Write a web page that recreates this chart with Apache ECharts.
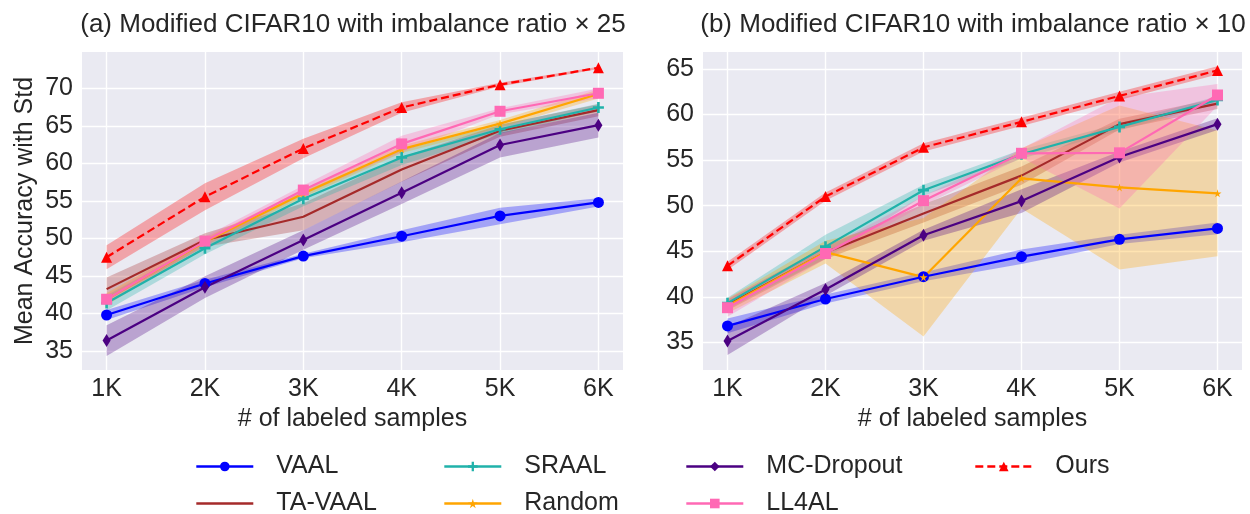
<!DOCTYPE html>
<html>
<head>
<meta charset="utf-8">
<title>Modified CIFAR10 imbalance</title>
<script src="https://cdn.jsdelivr.net/npm/echarts@6/dist/echarts.min.js"></script>
<style>
  html, body { margin: 0; padding: 0; background: #fff; }
  #main { width: 1250px; height: 514px; }
</style>
</head>
<body>
<div id="main"></div>
<script>
// x positions (thousands of labeled samples) and tick labels
var xK = [1, 2, 3, 4, 5, 6];
var yTicksA = [35, 40, 45, 50, 55, 60, 65, 70];
var yTicksB = [35, 40, 45, 50, 55, 60, 65];

// (a) imbalance ratio x25 : mean and std
var vaalA = [39.8, 44.0, 47.65, 50.3, 53.0, 54.8];
var vaalStdA = [0.65, 0.5, 0.3, 0.8, 1.1, 0.55];
var tavaalA = [43.25, 49.8, 52.9, 59.2, 64.35, 67.1];
var tavaalStdA = [1.55, 0.9, 1.8, 1.65, 0.8, 0.8];
var sraalA = [41.4, 48.7, 55.3, 60.8, 64.55, 67.45];
var sraalStdA = [1.0, 0.8, 1.0, 1.0, 0.6, 0.5];
var randomA = [41.9, 49.55, 56.0, 61.9, 65.3, 69.25];
var randomStdA = [0.8, 0.5, 0.5, 0.5, 0.5, 0.6];
var mcA = [36.4, 43.5, 49.8, 56.1, 62.45, 65.1];
var mcStdA = [2.05, 1.45, 1.3, 1.5, 1.65, 1.65];
var ll4alA = [41.9, 49.65, 56.45, 62.6, 66.95, 69.35];
var ll4alStdA = [0.5, 0.6, 0.6, 1.1, 0.4, 0.65];
var oursA = [47.5, 55.55, 62.0, 67.45, 70.5, 72.75];
var oursStdA = [1.6, 1.8, 1.3, 0.7, 0.25, 0.15];

// (b) imbalance ratio x10 : mean and std
var vaalB = [36.8, 39.75, 42.2, 44.4, 46.3, 47.5];
var vaalStdB = [0.8, 0.5, 0.5, 0.8, 0.5, 0.65];
var tavaalB = [39.1, 44.85, 49.15, 53.3, 58.95, 61.2];
var tavaalStdB = [0.6, 0.7, 1.0, 1.0, 0.6, 0.6];
var sraalB = [39.3, 45.5, 51.7, 55.65, 58.65, 61.6];
var sraalStdB = [0.6, 1.3, 0.6, 0.5, 0.4, 0.4];
var randomB = [39.0, 44.9, 42.15, 53.0, 52.0, 51.35];
var randomStdB = [0.8, 1.25, 6.5, 3.3, 9.0, 6.9];
var mcB = [35.15, 40.8, 46.75, 50.5, 55.35, 58.95];
var mcStdB = [1.55, 0.7, 0.6, 1.3, 0.6, 0.65];
var ll4alB = [38.8, 44.75, 50.55, 55.75, 55.8, 62.15];
var ll4alStdB = [1.0, 0.6, 0.5, 0.5, 6.1, 1.2];
var oursB = [43.4, 51.0, 56.4, 59.2, 62.05, 64.85];
var oursStdB = [0.45, 0.45, 0.45, 0.45, 0.45, 0.45];

var FONT = 'Liberation Sans, Arial, sans-serif';
var TXT = '#262626';

var starPath = 'path://M50,0L61,35L98,35L68,57L79,91L50,70L21,91L32,57L2,35L39,35Z';
var plusPath = 'path://M38,0H62V38H100V62H62V100H38V62H0V38H38Z';

var styles = [
  { name: 'VAAL', color: '#0000ff', symbol: 'circle', size: 11 },
  { name: 'TA-VAAL', color: '#a52a2a', symbol: 'none', size: 0 },
  { name: 'SRAAL', color: '#20b2aa', symbol: plusPath, size: 11 },
  { name: 'Random', color: '#ffa500', symbol: starPath, size: 8 },
  { name: 'MC-Dropout', color: '#4b0082', symbol: 'diamond', size: [8, 13] },
  { name: 'LL4AL', color: '#ff69b4', symbol: 'rect', size: 11 },
  { name: 'Ours', color: '#ff0000', symbol: 'triangle', size: 11, dashed: true }
];

var panelA = [[vaalA, vaalStdA], [tavaalA, tavaalStdA], [sraalA, sraalStdA], [randomA, randomStdA],
              [mcA, mcStdA], [ll4alA, ll4alStdA], [oursA, oursStdA]];
var panelB = [[vaalB, vaalStdB], [tavaalB, tavaalStdB], [sraalB, sraalStdB], [randomB, randomStdB],
              [mcB, mcStdB], [ll4alB, ll4alStdB], [oursB, oursStdB]];

var series = [];

function bandSeries(gi, st, m, s) {
  var fill = echarts.color.modifyAlpha(st.color, 0.3);
  return {
    type: 'custom',
    name: st.name + ' std',
    xAxisIndex: gi, yAxisIndex: gi,
    silent: true,
    z: 1,
    encode: { x: 0, y: [1, 2] },
    data: xK.map(function (x, k) { return [x, m[k] - s[k], m[k] + s[k]]; }),
    renderItem: function (params, api) {
      if (params.dataIndex !== 0) return;
      var pts = [];
      for (var k = 0; k < xK.length; k++) pts.push(api.coord([xK[k], m[k] + s[k]]));
      for (var j = xK.length - 1; j >= 0; j--) pts.push(api.coord([xK[j], m[j] - s[j]]));
      return { type: 'polygon', shape: { points: pts }, style: { fill: fill } };
    }
  };
}

function lineSeries(gi, st, m) {
  return {
    type: 'line',
    name: st.name,
    xAxisIndex: gi, yAxisIndex: gi,
    z: 3,
    data: xK.map(function (x, k) { return [x, m[k]]; }),
    symbol: st.symbol,
    symbolSize: st.size,
    showSymbol: st.symbol !== 'none',
    lineStyle: { color: st.color, width: 2.2, type: st.dashed ? [8, 4] : 'solid' },
    itemStyle: { color: st.color },
    emphasis: { disabled: true }
  };
}

[panelA, panelB].forEach(function (panel, gi) {
  panel.forEach(function (p, i) { series.push(bandSeries(gi, styles[i], p[0], p[1])); });
  panel.forEach(function (p, i) { series.push(lineSeries(gi, styles[i], p[0])); });
});

function xAxisOf(gi) {
  return {
    gridIndex: gi, type: 'value', min: 0.75, max: 6.25,
    name: '# of labeled samples', nameLocation: 'middle', nameGap: 31,
    nameTextStyle: { fontSize: 25, color: TXT, fontFamily: FONT },
    axisLine: { show: false },
    axisTick: { show: false, customValues: xK },
    axisLabel: { customValues: xK, fontSize: 25, color: TXT, fontFamily: FONT, margin: 7,
                 formatter: function (v) { return v + 'K'; } },
    splitLine: { show: true, lineStyle: { color: '#ffffff', width: 1.4 } }
  };
}

function yAxisOf(gi, lo, hi, ticks, name) {
  return {
    gridIndex: gi, type: 'value', min: lo, max: hi,
    name: name, nameLocation: 'middle', nameGap: 44,
    nameTextStyle: { fontSize: 25, color: TXT, fontFamily: FONT },
    axisLine: { show: false },
    axisTick: { show: false, customValues: ticks },
    axisLabel: { customValues: ticks, fontSize: 25, color: TXT, fontFamily: FONT, margin: 9 },
    splitLine: { show: true, lineStyle: { color: '#ffffff', width: 1.4 } }
  };
}

// one legend per entry, laid out like matplotlib's 4-column legend
function legendItem(item, left, top) {
  return {
    left: left, top: top, padding: 0,
    itemWidth: 57, itemHeight: 12,
    selectedMode: false,
    lineStyle: { width: 2.6 },
    textStyle: { fontSize: 25, color: TXT, fontFamily: FONT, padding: [0, 0, 0, 18] },
    data: [item]
  };
}

var chart = echarts.init(document.getElementById('main'));
chart.setOption({
  animation: false,
  backgroundColor: '#ffffff',
  title: [
    { text: '(a) Modified CIFAR10 with imbalance ratio \u00d7 25', left: 348, top: 7, textAlign: 'center',
      textStyle: { fontSize: 26, fontWeight: 'normal', color: TXT, fontFamily: FONT } },
    { text: '(b) Modified CIFAR10 with imbalance ratio \u00d7 10', left: 968, top: 7, textAlign: 'center',
      textStyle: { fontSize: 26, fontWeight: 'normal', color: TXT, fontFamily: FONT } }
  ],
  grid: [
    { left: 82, top: 52, width: 541, height: 318, show: true, backgroundColor: '#eaeaf2', borderWidth: 0 },
    { left: 703, top: 52, width: 539, height: 318, show: true, backgroundColor: '#eaeaf2', borderWidth: 0 }
  ],
  xAxis: [xAxisOf(0), xAxisOf(1)],
  yAxis: [yAxisOf(0, 32.47, 74.85, yTicksA, 'Mean Accuracy with Std'),
          yAxisOf(1, 31.96, 66.87, yTicksB, '')],
  legend: [
    legendItem('VAAL', 195, 454),
    legendItem({ name: 'TA-VAAL', itemStyle: { opacity: 0 } }, 195, 491),
    legendItem('SRAAL', 443, 454),
    legendItem('Random', 443, 491),
    legendItem('MC-Dropout', 685, 454),
    legendItem('LL4AL', 685, 491),
    legendItem('Ours', 974, 454)
  ],
  series: series
});
</script>
</body>
</html>
